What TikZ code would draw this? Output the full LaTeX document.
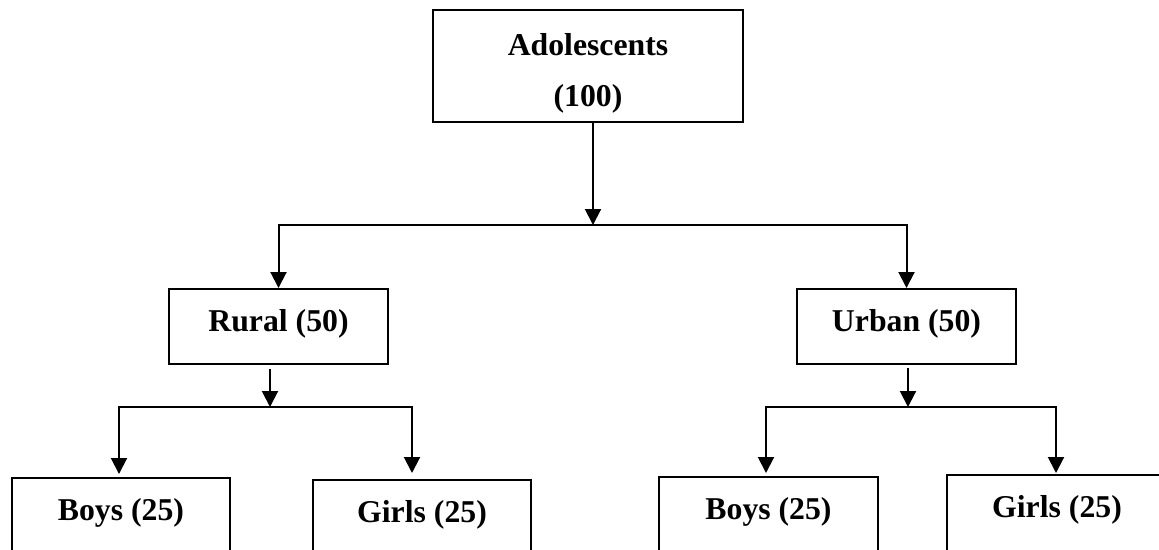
\documentclass[tikz,border=0pt]{standalone}
\usepackage{fontspec}
\setmainfont{Liberation Serif}
\usetikzlibrary{arrows.meta}

\begin{document}
\begin{tikzpicture}[x=0.4pt, y=-0.4pt, line width=0.8pt,
    >={Triangle[length=6.4pt,width=6.4pt]},
    font=\fontsize{12.7}{20.4}\selectfont\bfseries,
    base/.style={draw, rectangle, inner sep=0pt, align=center},
    box/.style={base, minimum height=30pt, text height=9pt, text depth=5.4pt},
    leaf/.style={base, minimum height=40pt, text height=9pt, text depth=15.4pt}]
    \useasboundingbox (0,0) rectangle (1159,549);
    \clip (0,0) rectangle (1159,549);

    % ROOT
    \node[base, minimum width=124pt, minimum height=44.8pt, text height=34.8pt] (root) at (588,66) {Adolescents\\(100)};

    % RURAL / URBAN
    \node[box, minimum width=87.6pt] (rural) at (278.5,326.5) {Rural (50)};
    \node[box, minimum width=87.6pt] (urban) at (906.5,326.5) {Urban (50)};

    % BOYS / GIRLS
    \node[leaf, minimum width=87.2pt] (boysR)  at (121,528)   {Boys (25)};   % rural
    \node[leaf, minimum width=87.2pt] (girlsR) at (422,530)   {Girls (25)};  % rural
    \node[leaf, minimum width=87.6pt] (boysU)  at (768.5,527) {Boys (25)};   % urban
    \node[leaf, minimum width=88pt]   (girlsU) at (1057,525)  {Girls (25)};  % urban

    % branch points
    \coordinate (split)  at (593,225);
    \coordinate (splitR) at (270,407);
    \coordinate (splitU) at (908,407);

    \draw[->] (split |- root.south) -- (split);
    \draw[->] (split) -| (rural.north);
    \draw[->] (split) -| (urban.north);

    \draw[->, shorten <=1.5pt] (splitR |- rural.south) -- (splitR);
    \draw[->, shorten >=1.2pt] (splitR) -| ([xshift=-0.8pt]boysR.north);
    \draw[->, shorten >=2.4pt] (splitR) -| ([xshift=-4pt]girlsR.north);

    \draw[->, shorten <=1.2pt] (splitU |- urban.south) -- (splitU);
    \draw[->, shorten >=1.2pt] (splitU) -| ([xshift=-1pt]boysU.north);
    \draw[->, shorten >=0.4pt] (splitU) -| ([xshift=-0.4pt]girlsU.north);
\end{tikzpicture}
\end{document}
